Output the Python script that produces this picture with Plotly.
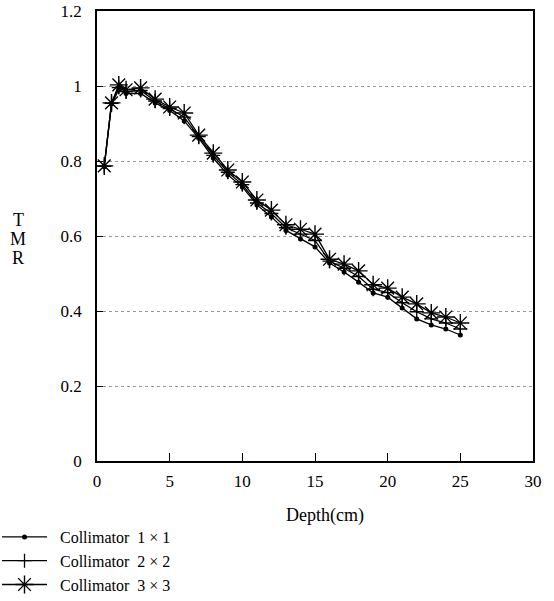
import plotly.graph_objects as go

depth = [0.5, 1, 1.5, 2, 3, 4, 5, 6, 7, 8, 9, 10, 11, 12, 13, 14, 15,
         16, 17, 18, 19, 20, 21, 22, 23, 24, 25]

tmr_1x1 = [0.785, 0.952, 0.990, 0.980, 0.980, 0.955, 0.935, 0.907, 0.861, 0.808,
           0.763, 0.731, 0.683, 0.651, 0.615, 0.592, 0.571, 0.528, 0.504, 0.477,
           0.448, 0.437, 0.408, 0.379, 0.363, 0.352, 0.336]
tmr_2x2 = [0.786, 0.954, 0.996, 0.985, 0.988, 0.960, 0.940, 0.917, 0.865, 0.815,
           0.770, 0.737, 0.688, 0.660, 0.622, 0.605, 0.588, 0.533, 0.514, 0.492,
           0.458, 0.449, 0.422, 0.398, 0.379, 0.368, 0.352]
tmr_3x3 = [0.787, 0.955, 1.003, 0.990, 0.995, 0.965, 0.944, 0.928, 0.869, 0.821,
           0.776, 0.744, 0.696, 0.669, 0.630, 0.618, 0.605, 0.538, 0.525, 0.507,
           0.470, 0.461, 0.437, 0.419, 0.395, 0.384, 0.368]

series_names = ["Collimator  1 × 1", "Collimator  2 × 2", "Collimator  3 × 3"]
x_ticks = [0, 5, 10, 15, 20, 25, 30]
y_ticks = [0, 0.2, 0.4, 0.6, 0.8, 1.0, 1.2]
y_tick_text = ["0", "0.2", "0.4", "0.6", "0.8", "1", "1.2"]
y_title_letters = ["T", "M", "R"]

FONT = "Liberation Serif, Times New Roman, DejaVu Serif, serif"
NBSP = "&nbsp;" * 2

fig = go.Figure()
fig.add_trace(go.Scatter(x=depth, y=tmr_1x1, name=NBSP + series_names[0], mode="lines+markers",
                         line=dict(color="black", width=1.3),
                         marker=dict(symbol="circle", size=5, color="black")))
fig.add_trace(go.Scatter(x=depth, y=tmr_2x2, name=NBSP + series_names[1], mode="lines+markers",
                         line=dict(color="black", width=1.3),
                         marker=dict(symbol="cross-thin-open", size=10,
                                     line=dict(color="black", width=1.3))))
fig.add_trace(go.Scatter(x=depth, y=tmr_3x3, name=NBSP + series_names[2], mode="lines+markers",
                         line=dict(color="black", width=1.3),
                         marker=dict(symbol="asterisk-open", size=15,
                                     line=dict(color="black", width=1.4))))

annotations = [
    dict(text="Depth(cm)", x=(325 - 97) / 436, y=-(515 - 461) / 450, xref="paper", yref="paper",
         showarrow=False, xanchor="center", yanchor="middle",
         font=dict(family=FONT, size=18)),
]
for i, letter in enumerate(y_title_letters):
    annotations.append(dict(text=letter, x=-(97 - 18) / 436, y=(461 - (220 + 19 * i)) / 450,
                            xref="paper", yref="paper", showarrow=False,
                            xanchor="center", yanchor="middle",
                            font=dict(family=FONT, size=18)))

fig.update_layout(
    width=554, height=601,
    margin=dict(l=97, r=21, t=11, b=140, autoexpand=False),
    paper_bgcolor="white", plot_bgcolor="white",
    font=dict(family=FONT, size=16, color="black"),
    showlegend=True,
    legend=dict(x=-100 / 436, y=-(520 - 461) / 450, xanchor="left", yanchor="top",
                bgcolor="rgba(0,0,0,0)", font=dict(family=FONT, size=16),
                tracegroupgap=0, itemwidth=45),
    xaxis=dict(range=[0, 30], tickvals=x_ticks, showgrid=False, zeroline=False,
               showline=True, linecolor="black", linewidth=1.5, mirror=True,
               ticks="inside", ticklen=8, tickcolor="black", tickwidth=1.3,
               ticklabelstandoff=4,
               tickfont=dict(family=FONT, size=17)),
    yaxis=dict(range=[0, 1.2], tickvals=y_ticks, ticktext=y_tick_text,
               showgrid=True, gridcolor="#999999", griddash="dot", gridwidth=1,
               zeroline=False, showline=True, linecolor="black", linewidth=1.5,
               mirror=True, ticks="inside", ticklen=6, tickcolor="black",
               tickwidth=1.3, ticklabelstandoff=10,
               tickfont=dict(family=FONT, size=17)),
    annotations=annotations,
)

fig.write_html("out.html")
